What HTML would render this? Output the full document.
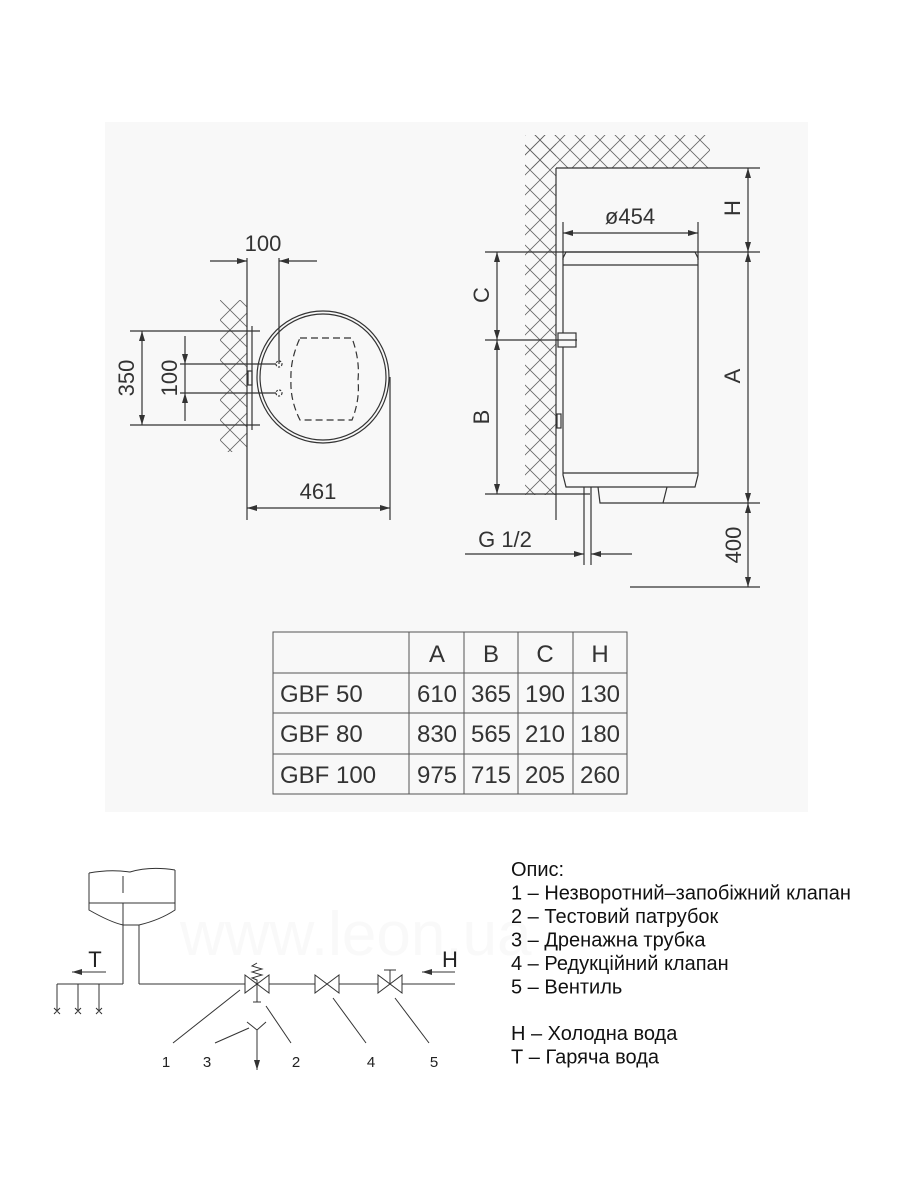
<!DOCTYPE html>
<html><head><meta charset="utf-8"><style>
body{margin:0;background:#fff;}
svg{display:block;font-family:"Liberation Sans",Arial,sans-serif;}
</style></head><body>
<svg width="900" height="1200" viewBox="0 0 900 1200" xmlns="http://www.w3.org/2000/svg">
<defs>
<marker id="a" viewBox="0 0 10 6" refX="10" refY="3" markerWidth="11" markerHeight="6" markerUnits="userSpaceOnUse" orient="auto-start-reverse"><path d="M0,0 L10,3 L0,6 z" fill="#333"/></marker>
<pattern id="h" width="20" height="20" patternUnits="userSpaceOnUse"><path d="M0,0 L20,20 M20,0 L0,20" stroke="#666" stroke-width="0.8"/></pattern>
</defs>
<rect x="105" y="122" width="703" height="690" fill="#f8f8f8"/>
<g stroke="#333" stroke-width="1.2" fill="none">
<!-- LEFT VIEW -->
<rect x="220" y="300" width="27" height="152" fill="url(#h)" stroke="none"/>
<line x1="247" y1="258" x2="247" y2="520"/>
<line x1="279" y1="258" x2="279" y2="364"/>
<line x1="210" y1="261" x2="247" y2="261" marker-end="url(#a)"/>
<line x1="317" y1="261" x2="279" y2="261" marker-end="url(#a)"/>
<circle cx="323" cy="377" r="66"/>
<circle cx="323" cy="377" r="63"/>
<path d="M300,338 L352,338 Q360,360 358,380 Q360,400 352,420 L300,420 Q290,400 291,380 Q290,360 300,338 Z" stroke-dasharray="7,4"/>
<circle cx="279" cy="364" r="3" stroke-dasharray="2,1.5"/>
<circle cx="279" cy="393" r="3" stroke-dasharray="2,1.5"/>
<rect x="248" y="371" width="4" height="14"/>
<line x1="252" y1="326" x2="252" y2="430"/>
<line x1="130" y1="331" x2="260" y2="331"/>
<line x1="130" y1="425" x2="260" y2="425"/>
<line x1="142" y1="378" x2="142" y2="331" marker-end="url(#a)"/>
<line x1="142" y1="378" x2="142" y2="425" marker-end="url(#a)"/>
<line x1="180" y1="364" x2="276" y2="364"/>
<line x1="180" y1="393" x2="276" y2="393"/>
<line x1="185" y1="336" x2="185" y2="364" marker-end="url(#a)"/>
<line x1="185" y1="421" x2="185" y2="393" marker-end="url(#a)"/>
<line x1="185" y1="364" x2="185" y2="393"/>
<line x1="390" y1="377" x2="390" y2="520"/>
<line x1="318" y1="508" x2="247" y2="508" marker-end="url(#a)"/>
<line x1="318" y1="508" x2="390" y2="508" marker-end="url(#a)"/>
<!-- RIGHT VIEW -->
<rect x="525" y="135" width="31" height="360" fill="url(#h)" stroke="none"/>
<rect x="525" y="135" width="185" height="33" fill="url(#h)" stroke="none"/>
<line x1="556" y1="168" x2="556" y2="520"/>
<line x1="556" y1="168" x2="760" y2="168"/>
<path d="M563,258 L566,252 L695,252 L698,258 L698,475 L695,487 L566,487 L563,475 Z" fill="#f8f8f8"/>
<line x1="563" y1="265" x2="698" y2="265"/>
<line x1="563" y1="473" x2="698" y2="473"/>
<path d="M598,487 L600,503 L663,503 L667,487"/>
<line x1="584" y1="487" x2="584" y2="565"/>
<line x1="591" y1="487" x2="591" y2="565"/>
<rect x="558" y="333" width="18" height="14" fill="#f8f8f8"/>
<rect x="557" y="414" width="4" height="14"/>
<line x1="563" y1="222" x2="563" y2="260"/>
<line x1="698" y1="222" x2="698" y2="260"/>
<line x1="630" y1="233" x2="563" y2="233" marker-end="url(#a)"/>
<line x1="630" y1="233" x2="698" y2="233" marker-end="url(#a)"/>
<line x1="485" y1="252" x2="760" y2="252"/>
<line x1="663" y1="503" x2="760" y2="503"/>
<line x1="630" y1="587" x2="760" y2="587"/>
<line x1="485" y1="340" x2="577" y2="340"/>
<line x1="485" y1="494" x2="590" y2="494"/>
<line x1="748" y1="210" x2="748" y2="168" marker-end="url(#a)"/>
<line x1="748" y1="210" x2="748" y2="252" marker-end="url(#a)"/>
<line x1="748" y1="377" x2="748" y2="252" marker-end="url(#a)"/>
<line x1="748" y1="377" x2="748" y2="503" marker-end="url(#a)"/>
<line x1="748" y1="545" x2="748" y2="503" marker-end="url(#a)"/>
<line x1="748" y1="545" x2="748" y2="587" marker-end="url(#a)"/>
<line x1="497" y1="296" x2="497" y2="252" marker-end="url(#a)"/>
<line x1="497" y1="296" x2="497" y2="340" marker-end="url(#a)"/>
<line x1="497" y1="417" x2="497" y2="340" marker-end="url(#a)"/>
<line x1="497" y1="417" x2="497" y2="494" marker-end="url(#a)"/>
<line x1="465" y1="554" x2="584" y2="554" marker-end="url(#a)"/>
<line x1="632" y1="554" x2="591" y2="554" marker-end="url(#a)"/>
<!-- TABLE -->
<g stroke="#555" stroke-width="1">
<rect x="273" y="632" width="354" height="162"/>
<line x1="273" y1="673" x2="627" y2="673"/><line x1="273" y1="713" x2="627" y2="713"/><line x1="273" y1="754" x2="627" y2="754"/>
<line x1="409" y1="632" x2="409" y2="794"/><line x1="464" y1="632" x2="464" y2="794"/><line x1="518" y1="632" x2="518" y2="794"/><line x1="573" y1="632" x2="573" y2="794"/>
</g>
</g>
<g fill="#333" font-size="22" text-anchor="middle">
<text x="263" y="251">100</text>
<text x="318" y="499">461</text>
<text transform="translate(134,378) rotate(-90)">350</text>
<text transform="translate(177,378) rotate(-90)">100</text>
<text x="630" y="224">ø454</text>
<text transform="translate(740,208) rotate(-90)">H</text>
<text transform="translate(740,376) rotate(-90)">A</text>
<text transform="translate(741,545) rotate(-90)">400</text>
<text transform="translate(489,295) rotate(-90)">C</text>
<text transform="translate(489,417) rotate(-90)">B</text>
<text x="505" y="547">G 1/2</text>
</g>
<g fill="#333" font-size="24">
<text x="437" y="662" text-anchor="middle">A</text><text x="491" y="662" text-anchor="middle">B</text><text x="545" y="662" text-anchor="middle">C</text><text x="600" y="662" text-anchor="middle">H</text>
<text x="280" y="702">GBF 50</text><text x="280" y="742">GBF 80</text><text x="280" y="783">GBF 100</text>
<g text-anchor="middle">
<text x="437" y="702">610</text><text x="491" y="702">365</text><text x="545" y="702">190</text><text x="600" y="702">130</text>
<text x="437" y="742">830</text><text x="491" y="742">565</text><text x="545" y="742">210</text><text x="600" y="742">180</text>
<text x="437" y="783">975</text><text x="491" y="783">715</text><text x="545" y="783">205</text><text x="600" y="783">260</text>
</g>
</g>
<!-- watermark -->
<text x="180" y="955" font-size="62" fill="#f9f9f9">www.leon.ua</text>
<!-- SCHEMATIC -->
<g stroke="#333" stroke-width="1" fill="none">
<path d="M89,873 Q110,869 130,872 Q150,866 175,870"/>
<path d="M89,873 L89,910 Q110,922 123,925 L139,925 Q160,920 175,910 L175,870"/>
<line x1="89" y1="903" x2="175" y2="903"/>
<line x1="123" y1="876" x2="123" y2="893"/>
<line x1="123" y1="903" x2="123" y2="984"/>
<line x1="139" y1="925" x2="139" y2="984"/>
<line x1="57" y1="984" x2="123" y2="984"/>
<line x1="139" y1="984" x2="245" y2="984"/>
<line x1="57" y1="984" x2="57" y2="1011"/><line x1="78" y1="984" x2="78" y2="1011"/><line x1="99" y1="984" x2="99" y2="1011"/>
<path d="M54,1008 l6,6 m0,-6 l-6,6 M75,1008 l6,6 m0,-6 l-6,6 M96,1008 l6,6 m0,-6 l-6,6"/>
<line x1="106" y1="972" x2="72" y2="972" marker-end="url(#a)"/>
<line x1="455" y1="972" x2="422" y2="972" marker-end="url(#a)"/>
<path d="M245,975 L269,993 L269,975 L245,993 Z"/>
<path d="M257,984 L257,980 L252,978 L262,975 L252,972 L262,969 L252,966 L257,963"/>
<line x1="257" y1="984" x2="257" y2="1002"/><line x1="253" y1="1002" x2="261" y2="1002"/>
<line x1="269" y1="984" x2="315" y2="984"/>
<path d="M315,975 L339,993 L339,975 L315,993 Z"/>
<line x1="339" y1="984" x2="378" y2="984"/>
<path d="M378,975 L402,993 L402,975 L378,993 Z"/>
<line x1="390" y1="984" x2="390" y2="970"/><line x1="384" y1="970" x2="396" y2="970"/>
<line x1="402" y1="984" x2="455" y2="984"/>
<line x1="240" y1="990" x2="173" y2="1043"/>
<line x1="266" y1="1006" x2="291" y2="1043"/>
<line x1="333" y1="998" x2="366" y2="1043"/>
<line x1="395" y1="998" x2="429" y2="1043"/>
<path d="M247,1022 L257,1030 L266,1022"/>
<line x1="257" y1="1030" x2="257" y2="1070" marker-end="url(#a)"/>
<line x1="249" y1="1028" x2="215" y2="1043"/>
</g>
<g fill="#222" font-size="15" text-anchor="middle">
<text x="166" y="1067">1</text><text x="207" y="1067">3</text><text x="296" y="1067">2</text><text x="371" y="1067">4</text><text x="434" y="1067">5</text>
</g>
<g fill="#222" font-size="22" text-anchor="middle">
<text x="95" y="967">T</text><text x="450" y="967">H</text>
</g>
<g fill="#111" font-size="20" font-family="Liberation Sans, DejaVu Sans, sans-serif">
<text x="511" y="876">Опис:</text>
<text x="511" y="899.5">1 – Незворотний–запобіжний клапан</text>
<text x="511" y="923">2 – Тестовий патрубок</text>
<text x="511" y="946.5">3 – Дренажна трубка</text>
<text x="511" y="970">4 – Редукційний клапан</text>
<text x="511" y="993.5">5 – Вентиль</text>
<text x="511" y="1040">H – Холодна вода</text>
<text x="511" y="1063.5">Т – Гаряча вода</text>
</g>
</svg>
</body></html>
